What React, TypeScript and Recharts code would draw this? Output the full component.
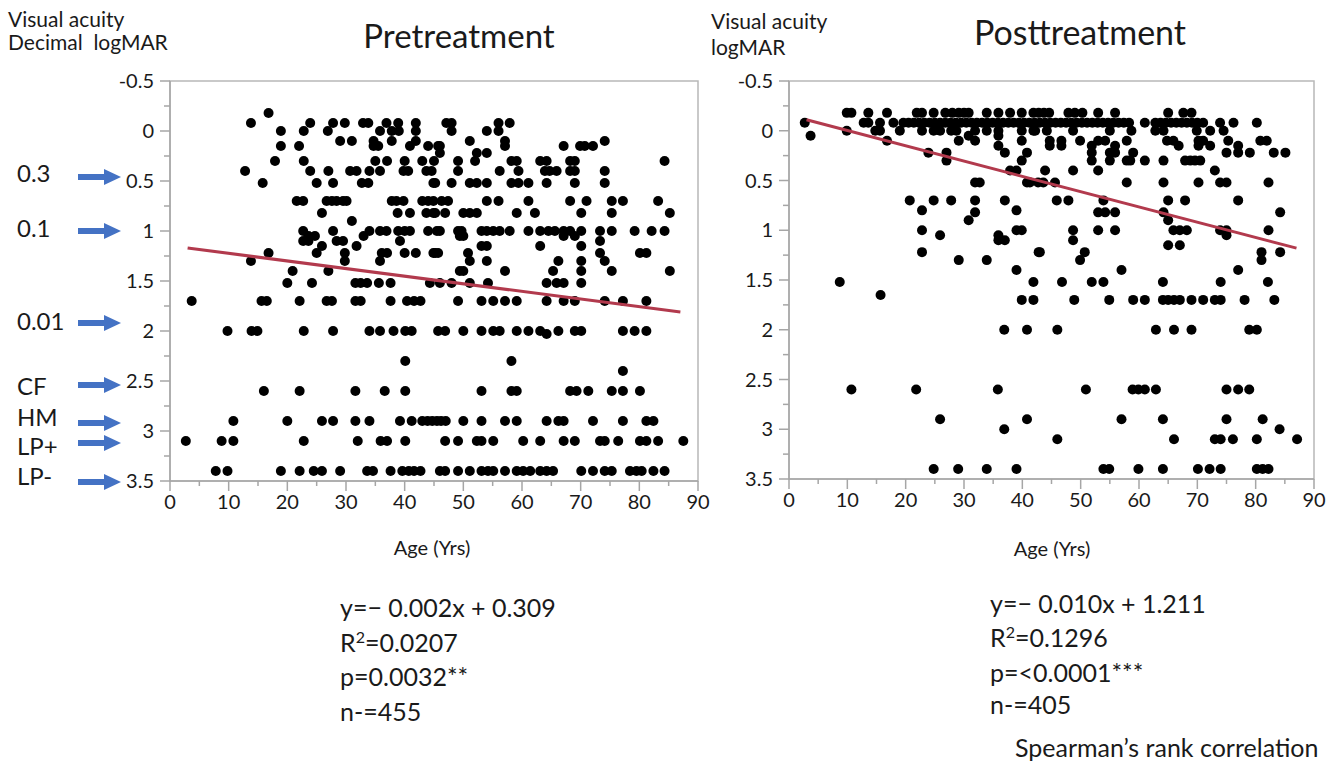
import React from 'react'
import { ScatterChart, Scatter, XAxis, YAxis, ReferenceArea } from 'recharts'

const FONT = 'Lato, "Open Sans", sans-serif'
const TEXT = '#1a1a1a'
const AXIS = '#a6a6a6'
const TREND = '#b23a4d'
const ARROW = '#4472c4'

const xTicks = [0, 5, 10, 15, 20, 25, 30, 35, 40, 45, 50, 55, 60, 65, 70, 75, 80, 85, 90]
const yTicks = [-0.5, -0.25, 0, 0.25, 0.5, 0.75, 1, 1.25, 1.5, 1.75, 2, 2.25, 2.5, 2.75, 3, 3.25, 3.5]

// [logMAR, ages at that level]
const preRows: [number, number[]][] = [
  [-0.18, [16.8]],
  [-0.08, [13.8, 23.9, 27.8, 29.8, 32.9, 33.8, 36.9, 38.9, 41.9, 47.1, 48, 56, 57.9]],
  [0, [18.9, 22.8, 26.9, 35.8, 37.8, 39, 41.9, 48, 54, 56]],
  [0.1, [29, 31, 34.7, 37.8, 41.9, 51.1, 57.1, 74.1]],
  [0.15, [18.9, 22, 34.7, 35.5, 40.9, 44, 45.7, 46, 57.1, 67.1, 69.9, 70.7, 72.1]],
  [0.22, [46, 52.3, 54]],
  [0.3, [17.9, 22.8, 35, 37, 40, 43, 45, 49.1, 52, 58.2, 59.1, 63.1, 64.2, 68.2, 69, 84.3]],
  [0.4, [12.8, 23.9, 27, 30.7, 31.8, 34, 35.8, 39.8, 40.6, 43.7, 44.6, 49.1, 56.2, 59.4, 63.9, 64.7, 65.9, 68.2, 69, 74.1]],
  [0.52, [15.8, 25, 27.8, 32.7, 33.8, 44.9, 45.2, 48, 51.1, 52.3, 54, 58.2, 59.4, 61.1, 64.2, 69, 74.1]],
  [0.7, [21.6, 22.7, 26.7, 27.6, 28.4, 29.5, 30.1, 37.8, 38.6, 39.8, 43, 44, 44.9, 46.3, 47.4, 54, 56, 61.1, 68.2, 71, 75.3, 77.2, 83.2]],
  [0.82, [25.9, 38.8, 40.9, 43.7, 44.9, 45.2, 46.9, 50, 51.1, 52.3, 59.1, 62.2, 70.1, 75.3, 85.2]],
  [0.9, [31]],
  [1.0, [22.7, 27.8, 34, 35.8, 36.9, 38.9, 40, 40.9, 44, 45.5, 46, 49.1, 49.7, 53.1, 54, 55.1, 56.2, 57.9, 61.1, 63.1, 64.5, 65.6, 67.1, 68.2, 70.1, 73.3, 75.3, 79.2, 82.1, 84.3]],
  [1.05, [23.6, 24.7, 33, 49.4, 50, 67.1, 69]],
  [1.1, [22.7, 23.6, 28.4, 29.5, 39.2, 73.3]],
  [1.15, [25.9, 31.8, 53.1, 54, 63.1, 70.1]],
  [1.22, [16.8, 25, 29.8, 36.1, 37, 40, 41.9, 44.9, 45.2, 45.7, 50.8, 73.3, 80.1, 81.2]],
  [1.3, [13.8, 29.8, 35.8, 51.1, 54, 66.2, 70.1, 74.1]],
  [1.4, [20.9, 27, 49.4, 50, 57.1, 65.3, 70.1, 75.3, 85.2]],
  [1.52, [20, 24.2, 31.6, 32.5, 33.6, 35.6, 37.6, 44.3, 46, 48, 51.1, 54.2, 64.2, 65.9, 67.1, 70.1]],
  [1.7, [3.7, 15.6, 16.5, 22.1, 26.7, 27.6, 31.6, 32.5, 37.6, 40.4, 41.6, 42.7, 49.1, 53.1, 55.1, 57.1, 59.1, 64.2, 67.1, 69, 74.1, 77.2, 81.2]],
  [2.0, [9.8, 13.9, 14.9, 22.8, 27.8, 34, 35.8, 38.1, 40.1, 41.2, 45.7, 46.9, 50, 53.1, 55.1, 56.2, 59.1, 61.1, 63.1, 66.2, 69, 70.1, 77.2, 79.2, 81.2]],
  [2.03, [64.2]],
  [2.3, [40.1, 58.2]],
  [2.4, [77.2]],
  [2.6, [16, 22.1, 31.6, 36.6, 40.1, 53.1, 58.2, 59.1, 68.2, 69.3, 71.3, 75.3, 77.2, 80.1]],
  [2.9, [10.8, 20, 25.9, 27.8, 31.6, 34, 39.2, 41.2, 43, 43.9, 44.7, 45.5, 46.2, 47, 50, 53.1, 57.1, 59.1, 64.2, 66.2, 67.1, 72.1, 77.2, 81.2, 82.4]],
  [3.1, [2.7, 8.8, 10.8, 22.8, 32, 35.9, 37, 40.1, 46.9, 49.1, 52.3, 53.1, 55.1, 60.2, 63.1, 67.1, 69, 73.3, 74.1, 76.4, 80.1, 81.2, 83.2, 87.5]],
  [3.4, [7.8, 9.8, 18.9, 22.1, 24.5, 25.9, 29, 33.6, 34.6, 37.6, 39.6, 40.7, 41.6, 42.7, 46, 46.9, 49.1, 51.1, 53.1, 54.2, 55.1, 57.1, 59.1, 60.2, 61.4, 63.1, 64.2, 65.3, 70.1, 72.1, 74.1, 75.3, 78.4, 79.5, 80.4, 82.4, 84.3]],
]

const postRows: [number, number[]][] = [
  [-0.18, [9.9, 10.7, 13.6, 16.8, 21.9, 22.8, 24.8, 26.8, 28, 29.1, 30, 30.8, 33.9, 35.9, 37.9, 39.9, 41.9, 42.8, 43.7, 44.6, 47.9, 49, 50.3, 53, 55.9, 65, 67.6, 69]],
  [-0.08, [2.7, 12.8, 13.6, 15.6, 17.9, 19.6, 20.5, 21.4, 22.3, 23.2, 24.1, 25, 25.9, 26.8, 27.7, 28.6, 29.5, 30.4, 31.3, 32.2, 33.1, 34, 34.9, 35.8, 36.7, 37.6, 38.5, 39.4, 40.3, 41.2, 42.1, 43, 43.9, 44.8, 45.7, 46.6, 47.5, 48.4, 49.3, 50.2, 51.1, 52, 52.9, 53.8, 54.7, 55.6, 56.5, 57.4, 58.3, 61, 62.8, 63.7, 64.6, 65.5, 66.4, 67.3, 68.2, 69.1, 70, 71, 73.9, 76.2, 80.2]],
  [0, [9.9, 14.8, 15.6, 19, 22.8, 24.8, 25.9, 27.8, 28.7, 31.9, 33.9, 35.9, 39.9, 41.9, 42.2, 44.2, 48.7, 55, 58.7, 62.8, 64.2, 69.9, 72.2, 74.5]],
  [0.05, [3.7, 30.8, 35.9]],
  [0.1, [16.8, 29.1, 31.9, 39.9, 44.7, 46.7, 49.9, 53, 54.2, 57.9, 64.8, 65.9, 70.2, 71, 75.3, 80.8, 81.9]],
  [0.15, [35.9, 44.7, 46.7, 51.9, 55.9, 66.8, 70.2, 72.2, 77]],
  [0.22, [23.9, 27, 37, 40.8, 51.9, 55, 55.9, 59, 75, 77, 79, 83.1, 85.1]],
  [0.3, [27, 39.9, 51.9, 55, 57.9, 58.5, 61, 64.2, 67.9, 68.8, 69.6, 70.5]],
  [0.4, [37.9, 39, 43.9, 48.7, 53, 73]],
  [0.52, [31.9, 32.7, 40.8, 41.3, 42.7, 43.6, 45.6, 57.9, 64.2, 70.2, 73.9, 75, 82.2]],
  [0.7, [20.7, 24.8, 27.8, 31.9, 37, 45.9, 47.9, 53.9, 65, 67.9, 77]],
  [0.8, [22.8, 39]],
  [0.82, [31.9, 53, 54.2, 55.9, 64.2, 84.2]],
  [0.9, [30.8, 65]],
  [1.0, [22.8, 39, 39.9, 48.7, 53, 55.9, 65.9, 67, 68.2, 73.9, 75, 82.2]],
  [1.05, [25.9, 35.9, 75]],
  [1.1, [35.9, 37, 48.7]],
  [1.15, [65, 67]],
  [1.22, [22.8, 42.8, 43, 50.7, 81, 84.2]],
  [1.3, [29.1, 33.9, 49.9, 81]],
  [1.4, [39, 57, 77]],
  [1.52, [8.7, 41.9, 46.8, 51.9, 53.9, 64.1, 74, 82.1]],
  [1.65, [15.7]],
  [1.7, [39.9, 41.9, 48.9, 54.9, 59, 61, 64.1, 65, 66, 67, 69, 71, 73, 74, 78.1, 83.2]],
  [2.0, [36.9, 40.8, 46, 62.9, 66, 69, 78.9, 80.2]],
  [2.6, [10.7, 21.8, 35.8, 50.9, 58.9, 59.9, 61, 62.9, 75, 77, 78.9]],
  [2.9, [25.9, 40.8, 57, 64.1, 75, 81.2]],
  [3.0, [36.9, 84.1]],
  [3.1, [46, 66, 73, 74, 76.1, 80.2, 87.1]],
  [3.4, [24.8, 29, 33.9, 39, 53.9, 54.9, 59.9, 64.1, 70.1, 72.1, 74, 80.2, 81.2, 82.2]],
]

const preTrend = [
  { age: 3, va: 1.17 },
  { age: 87, va: 1.81 },
]
const postTrend = [
  { age: 3, va: -0.11 },
  { age: 87, va: 1.18 },
]

// left-side decimal acuity markers
const markerLabels = ['0.3', '0.1', '0.01', 'CF', 'HM', 'LP+', 'LP-']
const markerTextY = [174, 229, 322, 387, 418, 447, 477]
const markerArrowY = [177, 231, 323, 385, 423, 443, 482]

const toPoints = (rows: [number, number[]][]) =>
  rows.flatMap(([va, ages]) => ages.map((age) => ({ age, va })))

const prePoints = toPoints(preRows)
const postPoints = toPoints(postRows)

const Dot = (p: any) => <circle cx={p.cx} cy={p.cy} r={5} fill="#000" />

// ticks draw their own lines so major / minor can have different lengths
function YTick(props: any) {
  const { x, y, payload } = props
  const v = payload.value
  const major = Math.abs(v * 2 - Math.round(v * 2)) < 1e-6
  const axisX = x + 6 + 10
  return (
    <g>
      <line x1={axisX - (major ? 10 : 6)} x2={axisX} y1={y} y2={y} stroke={AXIS} strokeWidth={1.5} />
      {major && (
        <text x={x} y={y} dy="0.35em" textAnchor="end" fontSize={20} fill={TEXT} fontFamily={FONT}>
          {v}
        </text>
      )}
    </g>
  )
}

function XTick(props: any) {
  const { x, y, payload } = props
  const v = payload.value
  const major = v % 10 === 0
  const axisY = y - 4 - 10
  return (
    <g>
      <line x1={x} x2={x} y1={axisY} y2={axisY + (major ? 10 : 5)} stroke={AXIS} strokeWidth={1.5} />
      {major && (
        <text x={x} y={y} dy="0.71em" textAnchor="middle" fontSize={20} fill={TEXT} fontFamily={FONT}>
          {v}
        </text>
      )}
    </g>
  )
}

function Panel({ points, trend, left, yWidth, right, bottom }: any) {
  return (
    <div style={{ position: 'absolute', left, top: 0 }}>
      <ScatterChart width={720} height={560} margin={{ top: 81, right, left: 0, bottom }}>
        <XAxis
          type="number"
          dataKey="age"
          domain={[0, 90]}
          ticks={xTicks}
          interval={0}
          height={30}
          tickSize={10}
          tickMargin={4}
          tickLine={false}
          tick={<XTick />}
          axisLine={{ stroke: AXIS, strokeWidth: 1.5 }}
          allowDataOverflow
        />
        <YAxis
          type="number"
          dataKey="va"
          domain={[-0.5, 3.5]}
          reversed
          ticks={yTicks}
          interval={0}
          width={yWidth}
          tickSize={10}
          tickMargin={6}
          tickLine={false}
          tick={<YTick />}
          axisLine={{ stroke: AXIS, strokeWidth: 1.5 }}
          allowDataOverflow
        />
        <ReferenceArea x1={0} x2={90} y1={-0.5} y2={3.5} fill="none" stroke="#b8b8b8" strokeWidth={1.5} />
        <Scatter data={points} shape={Dot} isAnimationActive={false} />
        <Scatter
          data={trend}
          line={{ stroke: TREND, strokeWidth: 3 }}
          shape={() => <g />}
          isAnimationActive={false}
        />
      </ScatterChart>
    </div>
  )
}

// cy is the vertical centre of the capitals
function T({ x, cy, size, children, center }: any) {
  return (
    <div
      style={{
        position: 'absolute',
        left: x,
        top: cy - size * 0.63,
        fontSize: size,
        lineHeight: 1.2,
        fontFamily: FONT,
        color: TEXT,
        whiteSpace: 'nowrap',
        transform: center ? 'translateX(-50%)' : undefined,
      }}
    >
      {children}
    </div>
  )
}

export default function App() {
  return (
    <div style={{ position: 'absolute', left: 0, top: 0, width: 1344, height: 766, background: '#fff', overflow: 'hidden' }}>
      <Panel points={prePoints} trend={preTrend} left={0} yWidth={170} right={22} bottom={49} />
      <Panel points={postPoints} trend={postTrend} left={620} yWidth={169} right={26} bottom={51} />

      <T x={8} cy={19} size={21}>Visual acuity</T>
      <T x={8} cy={42} size={21}>Decimal&nbsp;&nbsp;logMAR</T>
      <T x={711} cy={21} size={21}>Visual acuity</T>
      <T x={711} cy={47} size={21}>logMAR</T>

      <T x={459} cy={37} size={33} center>Pretreatment</T>
      <T x={1080} cy={33} size={34} center>Posttreatment</T>

      <T x={432} cy={548} size={20} center>Age (Yrs)</T>
      <T x={1052} cy={549} size={20} center>Age (Yrs)</T>

      {markerLabels.map((m, i) => (
        <T key={m} x={17} cy={markerTextY[i]} size={24}>{m}</T>
      ))}
      <svg style={{ position: 'absolute', left: 0, top: 0 }} width={170} height={500}>
        {markerArrowY.map((y, i) => (
          <g key={i} fill={ARROW}>
            <rect x={78} y={y - 3} width={28} height={6} />
            <polygon points={`104,${y - 8} 121,${y} 104,${y + 8}`} />
          </g>
        ))}
      </svg>

      <T x={340} cy={608} size={25}>y=− 0.002x + 0.309</T>
      <T x={340} cy={643} size={25}>R<sup style={{ fontSize: 16 }}>2</sup>=0.0207</T>
      <T x={340} cy={677} size={25}>p=0.0032**</T>
      <T x={340} cy={712} size={25}>n-=455</T>

      <T x={990} cy={604} size={25}>y=− 0.010x + 1.211</T>
      <T x={990} cy={638} size={25}>R<sup style={{ fontSize: 16 }}>2</sup>=0.1296</T>
      <T x={990} cy={673} size={25}>p=&lt;0.0001***</T>
      <T x={990} cy={705} size={25}>n-=405</T>

      <T x={1015} cy={748} size={25}>Spearman’s rank correlation</T>
    </div>
  )
}
